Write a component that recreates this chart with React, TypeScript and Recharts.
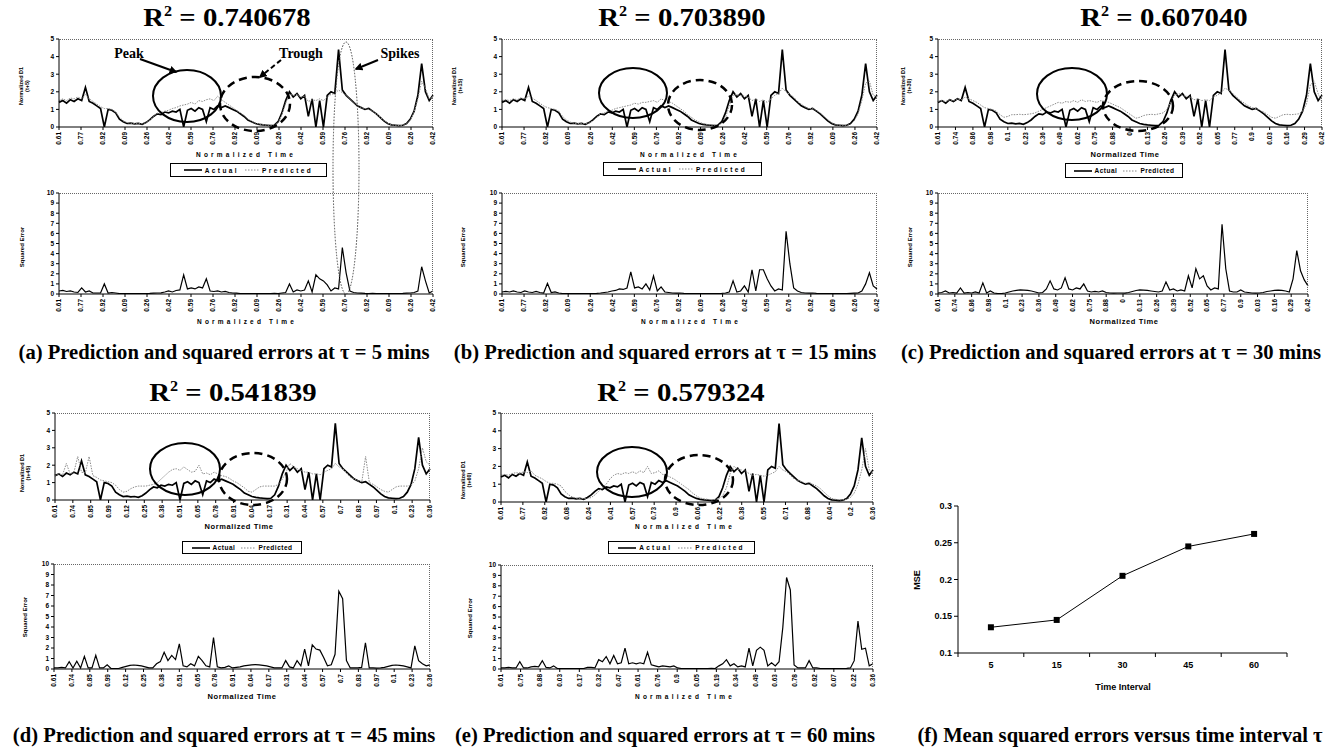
import React from "react";
import { LineChart, Line, XAxis, YAxis } from "recharts";

// normalized D1 (actual), sampled along the ~3 day window
const actualD1 = [
  1.4, 1.5, 1.35, 1.55, 1.45, 1.6, 1.5, 2.25, 1.45, 1.35,
  1.2, 1.05, 0, 1.0, 0.95, 0.8, 0.45, 0.3, 0.2, 0.22,
  0.18, 0.2, 0.15, 0.25, 0.4, 0.6, 0.75, 0.7, 0.85, 0.8,
  0.9, 0.85, 1.0, 0, 0.95, 1.05, 0.9, 1.1, 1.0, 0.3,
  1.1, 1.0, 1.2, 1.1, 1.2, 1.1, 1.0, 0.9, 0.75, 0.6,
  0.4, 0.3, 0.2, 0.15, 0.12, 0.1, 0.08, 0.1, 0.3, 0.8,
  1.5, 2.0, 1.7, 1.9, 1.6, 1.8, 0.6, 1.6, 0, 1.5,
  0, 1.8, 2.0, 1.9, 4.4, 2.1, 1.8, 1.6, 1.4, 1.2,
  1.1, 1.0, 1.05, 0.9, 0.75, 0.55, 0.35, 0.2, 0.12, 0.1,
  0.08, 0.1, 0.2, 0.45, 0.9, 1.8, 3.6, 2.0, 1.5, 1.8,
];

const predicted5 = [
  1.5, 1.6, 1.5, 1.65, 1.6, 1.7, 1.6, 1.85, 1.6, 1.45,
  1.3, 1.15, 1.05, 1.05, 1.0, 0.85, 0.55, 0.35, 0.25, 0.22,
  0.2, 0.22, 0.18, 0.25, 0.38, 0.6, 0.78, 0.8, 0.9, 0.95,
  1.05, 1.1, 1.2, 1.25, 1.3, 1.4, 1.3, 1.5, 1.45, 1.55,
  1.6, 1.5, 1.75, 1.55, 1.4, 1.25, 1.1, 0.95, 0.8, 0.65,
  0.45, 0.32, 0.22, 0.17, 0.13, 0.1, 0.1, 0.1, 0.25, 0.7,
  1.35, 1.85, 1.8, 1.85, 1.7, 1.75, 1.45, 1.55, 1.5, 1.6,
  1.5, 1.7, 1.85, 1.9, 2.1, 1.95, 1.8, 1.6, 1.4, 1.25,
  1.1, 1.05, 1.0, 0.9, 0.75, 0.55, 0.38, 0.22, 0.13, 0.1,
  0.08, 0.1, 0.18, 0.4, 0.85, 1.6, 2.6, 2.2, 1.6, 1.7,
];

const predicted15 = [
  1.5, 1.55, 1.5, 1.6, 1.55, 1.65, 1.6, 1.75, 1.65, 1.5,
  1.35, 1.2, 1.1, 1.05, 1.0, 0.9, 0.6, 0.4, 0.28, 0.22,
  0.2, 0.2, 0.2, 0.22, 0.35, 0.55, 0.75, 0.8, 0.9, 0.95,
  1.05, 1.1, 1.15, 1.2, 1.25, 1.35, 1.3, 1.4, 1.4, 1.45,
  1.5, 1.4, 1.6, 1.5, 1.45, 1.35, 1.2, 1.05, 0.9, 0.7,
  0.55, 0.4, 0.28, 0.2, 0.15, 0.12, 0.1, 0.1, 0.2, 0.55,
  1.2, 1.8, 1.85, 1.8, 1.75, 1.7, 1.5, 1.6, 1.45, 1.55,
  1.4, 1.6, 1.8, 1.9, 2.2, 2.0, 1.85, 1.7, 1.45, 1.3,
  1.15, 1.05, 1.05, 0.95, 0.8, 0.6, 0.42, 0.25, 0.15, 0.1,
  0.1, 0.1, 0.15, 0.35, 0.75, 1.5, 2.5, 2.6, 1.8, 1.7,
];

const predicted30 = [
  1.45, 1.5, 1.45, 1.55, 1.5, 1.6, 1.55, 1.7, 1.6, 1.5,
  1.4, 1.25, 1.1, 1.05, 1.0, 0.9, 0.7, 0.55, 0.6, 0.7,
  0.7, 0.72, 0.7, 0.72, 0.75, 0.8, 0.9, 1.0, 1.1, 1.2,
  1.3, 1.4, 1.35, 1.45, 1.4, 1.5, 1.4, 1.55, 1.45, 1.5,
  1.45, 1.4, 1.5, 1.45, 1.4, 1.3, 1.2, 1.1, 0.95, 0.8,
  0.65, 0.5, 0.55, 0.65, 0.7, 0.72, 0.7, 0.75, 0.8, 1.0,
  1.4, 1.8, 1.9, 1.8, 1.75, 1.7, 1.55, 1.6, 1.5, 1.55,
  1.5, 1.7, 1.8, 1.95, 2.2, 2.1, 1.9, 1.7, 1.5, 1.35,
  1.2, 1.1, 1.05, 0.95, 0.85, 0.7, 0.55, 0.5, 0.6, 0.7,
  0.72, 0.7, 0.72, 0.75, 0.9, 1.3, 2.4, 2.6, 1.9, 1.4,
];

const predicted45 = [
  1.4, 1.5, 1.45, 2.1, 1.5, 1.6, 2.5, 1.6, 1.55, 2.5,
  1.4, 1.3, 1.15, 1.1, 1.05, 1.0, 0.85, 0.6, 0.45, 0.5,
  0.65, 0.75, 0.8, 0.8, 0.8, 0.85, 0.9, 1.0, 1.2, 1.4,
  1.6, 1.75, 1.8, 1.7, 1.9, 1.75, 1.6, 1.65, 2.0, 1.5,
  1.55, 1.45, 1.6, 1.5, 1.4, 1.35, 1.25, 1.1, 1.0, 0.85,
  0.7, 0.5, 0.45, 0.6, 0.75, 0.8, 0.8, 0.8, 0.8, 0.9,
  1.2, 1.6, 2.1, 1.9, 1.8, 1.7, 1.6, 1.6, 1.5, 1.5,
  1.45, 1.6, 1.7, 1.8, 2.1, 1.9, 1.8, 1.55, 1.3, 1.2,
  1.1, 1.05, 2.5, 1.0, 0.9, 0.75, 0.6, 0.5, 0.45, 0.6,
  0.75, 0.8, 0.8, 0.8, 0.85, 1.1, 1.8, 3.0, 2.2, 2.0,
];

const predicted60 = [
  1.5, 1.55, 1.5, 1.6, 1.65, 1.6, 1.7, 1.65, 1.75, 1.5,
  1.4, 1.3, 1.15, 1.05, 1.05, 1.0, 0.9, 0.6, 0.4, 0.28,
  0.22, 0.2, 0.2, 0.2, 0.25, 0.4, 0.6, 0.8, 1.0, 1.3,
  1.5, 1.6, 1.55, 1.65, 1.6, 1.7, 1.6, 1.75, 1.65, 2.0,
  1.6, 1.65, 1.75, 1.55, 1.5, 1.4, 1.3, 1.15, 1.0, 0.85,
  0.7, 0.5, 0.35, 0.22, 0.18, 0.15, 0.12, 0.15, 0.2, 0.35,
  0.8, 1.6, 2.0, 1.85, 1.8, 1.75, 1.6, 1.5, 1.55, 1.5,
  1.45, 1.5, 1.6, 1.7, 2.0, 1.8, 1.7, 1.5, 1.3, 1.2,
  1.15, 1.05, 1.1, 1.0, 0.9, 0.75, 0.55, 0.35, 0.2, 0.15,
  0.12, 0.12, 0.15, 0.25, 0.5, 1.0, 1.8, 3.0, 1.8, 1.6,
];

const sqErr5 = [
  0.3, 0.35, 0.25, 0.3, 0.2, 0.15, 0.6, 0.2, 0.3, 0.1,
  0.1, 0.1, 1.0, 0.1, 0.15, 0.1, 0.05, 0.05, 0.04, 0.05,
  0.03, 0.05, 0.04, 0.05, 0.06, 0.08, 0.1, 0.12, 0.2, 0.3,
  0.2, 0.35, 0.4, 1.9, 0.5, 0.6, 0.5, 0.7, 0.6, 1.5,
  0.3, 0.25, 0.3, 0.2, 0.25, 0.15, 0.1, 0.08, 0.05, 0.05,
  0.04, 0.05, 0.03, 0.04, 0.05, 0.04, 0.05, 0.06, 0.05, 0.1,
  0.15, 1.0, 0.2, 0.4, 0.3, 0.4, 1.3, 0.2, 1.9, 1.5,
  1.3, 0.9, 0.3, 0.6, 0.5, 4.6, 2.1, 0.3, 0.15, 0.1,
  0.08, 0.06, 0.05, 0.06, 0.05, 0.04, 0.05, 0.04, 0.05, 0.04,
  0.05, 0.06, 0.08, 0.1, 0.15, 0.3, 2.7, 1.3, 0.1, 0.3,
];

const sqErr15 = [
  0.2, 0.25, 0.2, 0.3, 0.2, 0.15, 0.3, 0.2, 0.15, 0.25,
  0.15, 0.1, 1.05, 0.15, 0.2, 0.1, 0.05, 0.05, 0.04, 0.05,
  0.04, 0.05, 0.03, 0.04, 0.05, 0.06, 0.1, 0.15, 0.2, 0.3,
  0.35, 0.5, 0.45, 0.6, 2.2, 0.6, 0.7, 0.5, 1.0, 0.4,
  1.8, 0.3, 0.7, 0.2, 0.15, 0.1, 0.08, 0.1, 0.06, 0.05,
  0.04, 0.05, 0.04, 0.05, 0.03, 0.05, 0.04, 0.05, 0.06, 0.1,
  0.2, 1.3, 0.2, 0.3, 0.8, 0.2, 2.4, 0.3, 2.4, 2.4,
  1.5, 0.8, 0.3, 0.5, 0.4, 6.2, 3.0, 0.6, 0.3, 0.15,
  0.1, 0.08, 0.1, 0.06, 0.05, 0.04, 0.05, 0.04, 0.05, 0.04,
  0.05, 0.04, 0.06, 0.08, 0.1, 0.3, 1.0, 2.1, 0.8, 0.5,
];

const sqErr30 = [
  0.1, 0.15, 0.3, 0.1, 0.15, 0.1, 0.6, 0.1, 0.15, 0.1,
  0.2, 0.1, 1.1, 0.1, 0.3, 0.1, 0.05, 0.05, 0.1, 0.2,
  0.3, 0.35, 0.4, 0.38, 0.35, 0.3, 0.2, 0.1, 0.15, 0.5,
  1.3, 0.5, 0.4, 0.6, 1.6, 0.5, 0.4, 0.6, 0.5, 1.0,
  0.3, 0.2, 0.25, 0.2, 0.3, 0.15, 0.1, 0.08, 0.1, 0.1,
  0.08, 0.15, 0.25, 0.35, 0.4, 0.38, 0.35, 0.3, 0.25, 0.2,
  0.3, 1.2, 0.4, 0.5, 0.3, 0.4, 0.3, 1.8, 0.6, 2.5,
  1.5, 1.8, 0.8, 0.4, 0.6, 0.5, 6.9, 2.5, 0.3, 0.2,
  0.2, 0.4, 0.2, 0.15, 0.1, 0.08, 0.1, 0.15, 0.25, 0.3,
  0.35, 0.38, 0.35, 0.3, 0.2, 1.5, 4.3, 2.3, 1.4, 0.8,
];

const sqErr45 = [
  0.1, 0.1, 0.15, 0.1, 0.7, 0.1, 0.75, 0.1, 1.2, 0.1,
  0.1, 1.3, 0.1, 0.1, 0.4, 0.05, 0.05, 0.05, 0.15, 0.25,
  0.35, 0.38, 0.35, 0.3, 0.2, 0.1, 0.1, 0.5, 0.7, 1.6,
  0.8, 1.3, 0.9, 2.4, 0.3, 0.2, 0.5, 0.3, 1.2, 0.8,
  0.3, 0.2, 3.0, 0.2, 0.1, 0.15, 0.3, 0.1, 0.15, 0.2,
  0.3, 0.35, 0.4, 0.42, 0.4, 0.35, 0.3, 0.2, 0.1, 0.1,
  0.1, 0.8, 0.2, 0.1, 0.8, 0.3, 1.9, 0.3, 2.3, 1.9,
  1.8, 1.1, 0.3, 0.4, 1.4, 7.4, 6.7, 0.8, 0.1, 0.1,
  0.1, 0.15, 2.5, 0.1, 0.1, 0.08, 0.1, 0.15, 0.25, 0.35,
  0.38, 0.35, 0.3, 0.2, 0.1, 2.2, 0.8, 0.5, 0.3, 0.4,
];

const sqErr60 = [
  0.1, 0.1, 0.15, 0.1, 0.1, 0.7, 0.1, 0.1, 0.2, 0.25,
  0.2, 0.8, 0.15, 0.1, 0.3, 0.05, 0.05, 0.04, 0.05, 0.04,
  0.05, 0.04, 0.05, 0.15, 0.15, 0.1, 0.9, 0.7, 1.2, 0.5,
  1.3, 0.5, 0.6, 2.0, 0.5, 0.6, 0.5, 0.6, 0.5, 1.6,
  0.4, 0.3, 0.2, 0.3, 0.25, 0.2, 0.3, 0.1, 0.05, 0.05,
  0.04, 0.05, 0.04, 0.05, 0.04, 0.05, 0.06, 0.05, 0.3, 0.5,
  0.9, 0.3, 0.5, 0.2, 0.3, 0.2, 2.0, 0.3, 1.8, 2.1,
  1.8, 0.3, 0.6, 0.3, 0.7, 4.0, 8.8, 7.6, 0.4, 0.1,
  0.1, 0.1, 0.8, 0.1, 0.1, 0.05, 0.04, 0.05, 0.04, 0.05,
  0.04, 0.05, 0.06, 0.1, 0.8, 4.6, 1.9, 2.0, 0.3, 0.5,
];

const ticksAB = ["0.61", "0.77", "0.92", "0.09", "0.26", "0.42", "0.59", "0.76", "0.92", "0.09", "0.26", "0.42", "0.59", "0.76", "0.92", "0.09", "0.26", "0.42"];
const ticksC = ["0.61", "0.74", "0.86", "0.98", "0.1", "0.23", "0.36", "0.49", "0.62", "0.75", "0.88", "0", "0.13", "0.26", "0.39", "0.52", "0.65", "0.77", "0.9", "0.03", "0.16", "0.29", "0.42"];
const ticksD = ["0.61", "0.74", "0.85", "0.99", "0.12", "0.25", "0.38", "0.51", "0.65", "0.78", "0.91", "0.04", "0.17", "0.31", "0.44", "0.57", "0.7", "0.83", "0.97", "0.1", "0.23", "0.36"];
const ticksETop = ["0.61", "0.77", "0.92", "0.08", "0.24", "0.41", "0.57", "0.73", "0.9", "0.06", "0.22", "0.38", "0.55", "0.71", "0.88", "0.04", "0.2", "0.36"];
const ticksEBottom = ["0.61", "0.75", "0.88", "0.03", "0.17", "0.32", "0.47", "0.61", "0.76", "0.9", "0.05", "0.19", "0.34", "0.49", "0.63", "0.78", "0.92", "0.07", "0.22", "0.36"];

const intervals = ["5", "15", "30", "45", "60"];
const mseValues = [0.135, 0.145, 0.205, 0.245, 0.262];

const SANS = "'Liberation Sans', Arial, sans-serif";
const SERIF = "'Liberation Serif', 'Times New Roman', serif";

type Geo = { x: number; y: number; w: number; h: number };
type Series = { key: string; values: number[]; color: string; width: number; dash?: string };

function SeriesPlot({ g, labels, series, yMax }: { g: Geo; labels: string[]; series: Series[]; yMax: number }) {
  const n = series[0].values.length;
  const rows = series[0].values.map((_, i) => {
    const r: Record<string, number> = { i };
    series.forEach((s) => (r[s.key] = s.values[i]));
    return r;
  });
  const step = (n - 1) / (labels.length - 1);
  const ticks = labels.map((_, k) => k * step);
  const yTicks = Array.from({ length: yMax + 1 }, (_, k) => k);
  const YW = 22, MT = 4, MR = 4, XH = 26;

  const rotTick = (p: any) => {
    const lab = labels[Math.round(p.payload.value / step)];
    return (
      <text x={p.x} y={p.y} transform={`rotate(-90 ${p.x} ${p.y})`} textAnchor="end" dy="0.35em"
        fontSize={6.5} fontWeight={700} fontFamily={SANS} fill="#000">{lab}</text>
    );
  };

  return (
    <div style={{ position: "absolute", left: g.x - YW, top: g.y - MT }}>
      <LineChart width={g.w + YW + MR} height={g.h + MT + XH} data={rows} margin={{ top: MT, right: MR, left: 0, bottom: 0 }}>
        <XAxis type="number" dataKey="i" domain={[0, n - 1]} ticks={ticks} interval={0} height={XH}
          tick={rotTick} tickSize={3} stroke="#000" />
        <YAxis type="number" domain={[0, yMax]} ticks={yTicks} interval={0} width={YW} tickSize={3} stroke="#000"
          allowDataOverflow tick={{ fontSize: 6.5, fontWeight: 700, fill: "#000", fontFamily: SANS }} />
        {series.map((s) => (
          <Line key={s.key} dataKey={s.key} type="linear" dot={false} isAnimationActive={false}
            stroke={s.color} strokeWidth={s.width} strokeDasharray={s.dash} />
        ))}
      </LineChart>
      <div style={{ position: "absolute", left: YW, top: MT, width: g.w, height: g.h, borderTop: "1px dotted #666",
        borderRight: "1px dotted #666", boxSizing: "border-box", pointerEvents: "none" }} />
    </div>
  );
}

function Txt({ x, y, children, size, bold = true, font = SANS, spacing = 0, rotate = false, scaleX = 1 }: any) {
  return (
    <div style={{ position: "absolute", left: x, top: y, transform: `translate(-50%, -50%)${rotate ? " rotate(-90deg)" : ""}${scaleX !== 1 ? ` scaleX(${scaleX})` : ""}`,
      fontFamily: font, fontSize: size, fontWeight: bold ? 700 : 400, letterSpacing: spacing, whiteSpace: "nowrap", lineHeight: 1.15, textAlign: "center", color: "#000" }}>
      {children}
    </div>
  );
}

function Legend({ x, y, w, h, spacing }: { x: number; y: number; w: number; h: number; spacing: number }) {
  return (
    <div style={{ position: "absolute", left: x, top: y, width: w, height: h, border: "1px solid #000", boxSizing: "border-box",
      display: "flex", alignItems: "center", justifyContent: "center", gap: 3, fontFamily: SANS, fontSize: 6.5, fontWeight: 700, letterSpacing: spacing }}>
      <svg width={18} height={4}><line x1={0} y1={2} x2={18} y2={2} stroke="#000" strokeWidth={1.6} /></svg>
      <span>Actual</span>
      <svg width={14} height={4} style={{ marginLeft: 3 }}><line x1={0} y1={2} x2={14} y2={2} stroke="#888" strokeWidth={1} strokeDasharray="1.5 1.5" /></svg>
      <span>Predicted</span>
    </div>
  );
}

function MsePlot() {
  const rows = intervals.map((t, i) => ({ t, mse: mseValues[i] }));
  const g = { x: 958, y: 506, w: 329, h: 147 };
  const YW = 34, MT = 4, MR = 4, XH = 24;
  const band = g.w / rows.length;
  const xTick = (p: any) => (
    <g>
      <line x1={p.x - band / 2} y1={p.y} x2={p.x - band / 2} y2={p.y + 4} stroke="#000" />
      {p.index === rows.length - 1 && <line x1={p.x + band / 2} y1={p.y} x2={p.x + band / 2} y2={p.y + 4} stroke="#000" />}
      <text x={p.x} y={p.y + 15} textAnchor="middle" fontSize={9} fontWeight={700} fontFamily={SANS} fill="#000">{p.payload.value}</text>
    </g>
  );
  return (
    <div style={{ position: "absolute", left: g.x - YW, top: g.y - MT }}>
      <LineChart width={g.w + YW + MR} height={g.h + MT + XH} data={rows} margin={{ top: MT, right: MR, left: 0, bottom: 0 }}>
        <XAxis dataKey="t" type="category" height={XH} padding={{ left: band / 2, right: band / 2 }} tickSize={0} tickMargin={0}
          tickLine={false} stroke="#000" interval={0} tick={xTick} />
        <YAxis type="number" domain={[0.1, 0.3]} ticks={[0.1, 0.15, 0.2, 0.25, 0.3]} interval={0} width={YW} tickSize={4}
          stroke="#000" allowDataOverflow tickFormatter={(v: number) => String(v)}
          tick={{ fontSize: 9, fontWeight: 700, fill: "#000", fontFamily: SANS }} />
        <Line dataKey="mse" type="linear" stroke="#000" strokeWidth={1} isAnimationActive={false}
          dot={(p: any) => <rect key={p.index} x={p.cx - 3} y={p.cy - 3} width={6} height={6} fill="#000" />} />
      </LineChart>
    </div>
  );
}

const actualSpec = (values: number[]): Series => ({ key: "actual", values, color: "#000", width: 1.7 });
const predSpec = (values: number[]): Series => ({ key: "pred", values, color: "#8c8c8c", width: 1, dash: "1.5 1.2" });
const errSpec = (values: number[]): Series => ({ key: "err", values, color: "#000", width: 1.2 });

function Title({ x, y, r2 }: { x: number; y: number; r2: string }) {
  return (
    <Txt x={x} y={y} size={25} font={SERIF} scaleX={1.15}>
      R<sup style={{ fontSize: 14 }}>2</sup> = {r2}
    </Txt>
  );
}

function Caption({ x, y, children }: any) {
  return <Txt x={x} y={y} size={20} font={SERIF} scaleX={1.03}>{children}</Txt>;
}

export default function App() {
  return (
    <div style={{ position: "absolute", left: 0, top: 0, width: 1335, height: 752, background: "#fff", overflow: "hidden" }}>
      {/* titles */}
      <Title x={227} y={18} r2="0.740678" />
      <Title x={682} y={18} r2="0.703890" />
      <Title x={1164} y={18} r2="0.607040" />
      <Title x={233} y={393} r2="0.541839" />
      <Title x={681} y={393} r2="0.579324" />

      {/* (a) */}
      <SeriesPlot g={{ x: 59, y: 39, w: 374, h: 88 }} labels={ticksAB} yMax={5} series={[actualSpec(actualD1), predSpec(predicted5)]} />
      <SeriesPlot g={{ x: 59, y: 193, w: 374, h: 101 }} labels={ticksAB} yMax={10} series={[errSpec(sqErr5)]} />
      {/* (b) */}
      <SeriesPlot g={{ x: 502, y: 39, w: 375, h: 88 }} labels={ticksAB} yMax={5} series={[actualSpec(actualD1), predSpec(predicted15)]} />
      <SeriesPlot g={{ x: 502, y: 193, w: 375, h: 101 }} labels={ticksAB} yMax={10} series={[errSpec(sqErr15)]} />
      {/* (c) */}
      <SeriesPlot g={{ x: 938, y: 39, w: 384, h: 88 }} labels={ticksC} yMax={5} series={[actualSpec(actualD1), predSpec(predicted30)]} />
      <SeriesPlot g={{ x: 938, y: 193, w: 370, h: 101 }} labels={ticksC} yMax={10} series={[errSpec(sqErr30)]} />
      {/* (d) */}
      <SeriesPlot g={{ x: 55, y: 413, w: 375, h: 87 }} labels={ticksD} yMax={5} series={[actualSpec(actualD1), predSpec(predicted45)]} />
      <SeriesPlot g={{ x: 54, y: 564, w: 376, h: 105 }} labels={ticksD} yMax={10} series={[errSpec(sqErr45)]} />
      {/* (e) */}
      <SeriesPlot g={{ x: 501, y: 413, w: 372, h: 89 }} labels={ticksETop} yMax={5} series={[actualSpec(actualD1), predSpec(predicted60)]} />
      <SeriesPlot g={{ x: 501, y: 565, w: 372, h: 104 }} labels={ticksEBottom} yMax={10} series={[errSpec(sqErr60)]} />
      {/* (f) */}
      <MsePlot />

      {/* y axis titles */}
      <Txt x={24} y={86} size={5.5} rotate>Normalized D1<br />(t+5)</Txt>
      <Txt x={22} y={247} size={6} rotate>Squared Error</Txt>
      <Txt x={457} y={86} size={5.5} rotate>Normalized D1<br />(t+15)</Txt>
      <Txt x={463} y={247} size={6} rotate>Squared Error</Txt>
      <Txt x={906} y={86} size={5.5} rotate>Normalized D1<br />(t+30)</Txt>
      <Txt x={910} y={247} size={6} rotate>Squared Error</Txt>
      <Txt x={25} y={473} size={5.5} rotate>Normalized D1<br />(t+45)</Txt>
      <Txt x={25} y={617} size={6} rotate>Squared Error</Txt>
      <Txt x={466} y={480} size={5.5} rotate>Normalized D1<br />(t+60)</Txt>
      <Txt x={470} y={618} size={6} rotate>Squared Error</Txt>
      <Txt x={917} y={580} size={9} rotate>MSE</Txt>

      {/* x axis titles */}
      <Txt x={246} y={155} size={6.5} spacing={3.2}>Normalized Time</Txt>
      <Txt x={247} y={322} size={6.5} spacing={3.2}>Normalized Time</Txt>
      <Txt x={690} y={155} size={6.5} spacing={3.2}>Normalized Time</Txt>
      <Txt x={691} y={322} size={6.5} spacing={3.2}>Normalized Time</Txt>
      <Txt x={1125} y={155} size={7.5} spacing={0.6}>Normalized Time</Txt>
      <Txt x={1124} y={322} size={7.5} spacing={0.6}>Normalized Time</Txt>
      <Txt x={239} y={527} size={7.5} spacing={0.6}>Normalized Time</Txt>
      <Txt x={242} y={697} size={7.5} spacing={0.6}>Normalized Time</Txt>
      <Txt x={685} y={527} size={6.5} spacing={3.2}>Normalized Time</Txt>
      <Txt x={685} y={697} size={6.5} spacing={3.2}>Normalized Time</Txt>
      <Txt x={1123} y={687} size={9}>Time Interval</Txt>

      {/* legends */}
      <Legend x={170} y={163} w={157} h={14} spacing={2.4} />
      <Legend x={603} y={162} w={159} h={14} spacing={2.4} />
      <Legend x={1065} y={163} w={118} h={15} spacing={0.5} />
      <Legend x={182} y={541} w={120} h={13} spacing={0.5} />
      <Legend x={608} y={541} w={147} h={13} spacing={2.2} />

      {/* captions */}
      <Caption x={224} y={352}>(a) Prediction and squared errors at τ = 5 mins</Caption>
      <Caption x={665} y={352}>(b) Prediction and squared errors at τ = 15 mins</Caption>
      <Caption x={1111} y={352}>(c) Prediction and squared errors at τ = 30 mins</Caption>
      <Caption x={224} y={735}>(d) Prediction and squared errors at τ = 45 mins</Caption>
      <Caption x={665} y={735}>(e) Prediction and squared errors at τ = 60 mins</Caption>
      <Caption x={1120} y={735}>(f) Mean squared errors versus time interval τ</Caption>

      {/* annotations */}
      <svg width={1335} height={752} style={{ position: "absolute", left: 0, top: 0, pointerEvents: "none" }}>
        <defs>
          <marker id="ah" viewBox="0 0 10 10" refX="8" refY="5" markerWidth="4" markerHeight="4" orient="auto">
            <path d="M0,0 L10,5 L0,10 z" fill="#000" />
          </marker>
        </defs>
        <g fill="none" stroke="#000">
          <ellipse cx={187} cy={96} rx={34} ry={26} strokeWidth={2} />
          <ellipse cx={255} cy={104} rx={35} ry={27} strokeWidth={2.5} strokeDasharray="8 5" />
          <ellipse cx={346} cy={168} rx={13} ry={126} strokeWidth={1} stroke="#444" strokeDasharray="1.5 1.5" />
          <line x1={140} y1={59} x2={176} y2={72} strokeWidth={2} markerEnd="url(#ah)" />
          <line x1={281} y1={60} x2={260} y2={77} strokeWidth={2} strokeDasharray="5 3" markerEnd="url(#ah)" />
          <line x1={378} y1={60} x2={356} y2={69} strokeWidth={2} markerEnd="url(#ah)" />

          <ellipse cx={633} cy={93} rx={34} ry={25} strokeWidth={2} />
          <ellipse cx={700} cy={105} rx={32} ry={25} strokeWidth={2.5} strokeDasharray="8 5" />
          <ellipse cx={1072} cy={94} rx={35} ry={26} strokeWidth={2} />
          <ellipse cx={1138} cy={106} rx={35} ry={25} strokeWidth={2.5} strokeDasharray="8 5" />
          <ellipse cx={185} cy={469} rx={35} ry={26} strokeWidth={2} />
          <ellipse cx={253} cy={479} rx={34} ry={26} strokeWidth={2.5} strokeDasharray="8 5" />
          <ellipse cx={632} cy={472} rx={35} ry={25} strokeWidth={2} />
          <ellipse cx={699} cy={480} rx={34} ry={25} strokeWidth={2.5} strokeDasharray="8 5" />
        </g>
        <g fontFamily={SERIF} fontWeight={700} fontSize={14} textAnchor="middle" fill="#000">
          <text x={129} y={58}>Peak</text>
          <text x={301} y={58}>Trough</text>
          <text x={400} y={58}>Spikes</text>
        </g>
      </svg>
    </div>
  );
}
